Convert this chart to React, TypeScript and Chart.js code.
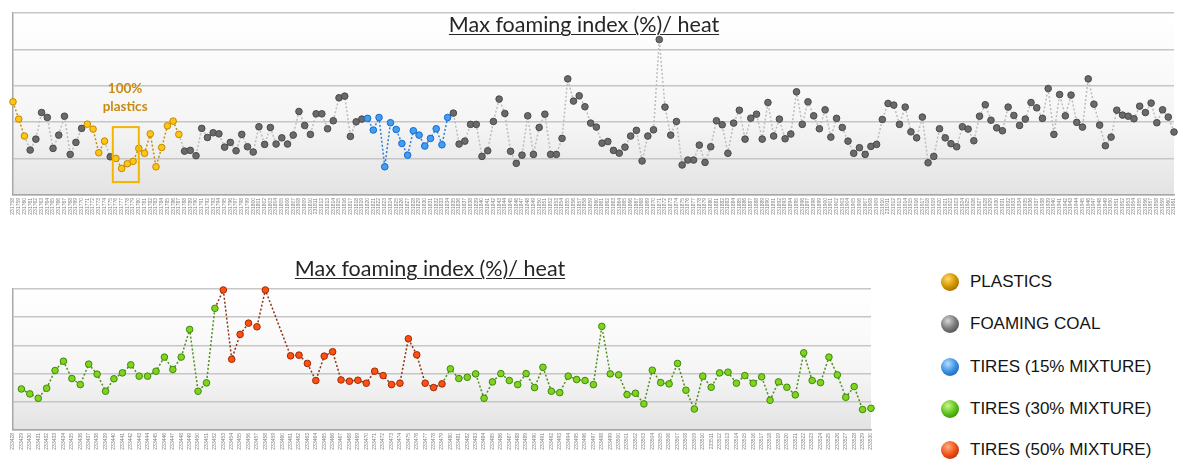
import React, { useEffect, useRef } from 'react';
import { Chart, registerables } from 'chart.js';

Chart.register(...registerables);

// ---------------- DATA ----------------
const titleText = 'Max foaming index (%)/ heat';

const topHeats = [
  231758, 231759, 231760, 231761, 231762, 231763, 231764, 231765, 231766, 231767,
  231768, 231769, 231770, 231771, 231772, 231773, 231774, 231775, 231776, 231777,
  231778, 231779, 231780, 231781, 231782, 231783, 231784, 231785, 231786, 231787,
  231788, 231789, 231790, 231791, 231792, 231793, 231794, 231795, 231796, 231797,
  231798, 231799, 231800, 231801, 231802, 231803, 231804, 231805, 231806, 231807,
  231808, 231809, 231810, 231811, 231812, 231813, 231814, 231815, 231816, 231817,
  231818, 231819, 231820, 231821, 231822, 231823, 231824, 231825, 231826, 231827,
  231828, 231829, 231830, 231831, 231832, 231833, 231834, 231835, 231836, 231837,
  231838, 231839, 231840, 231841, 231842, 231843, 231844, 231845, 231846, 231847,
  231848, 231849, 231850, 231851, 231852, 231853, 231854, 231855, 231856, 231857,
  231858, 231859, 231860, 231861, 231862, 231863, 231864, 231865, 231866, 231867,
  231868, 231869, 231870, 231871, 231872, 231873, 231874, 231875, 231876, 231877,
  231878, 231879, 231880, 231881, 231882, 231883, 231884, 231885, 231886, 231887,
  231888, 231889, 231890, 231891, 231892, 231893, 231894, 231895, 231896, 231897,
  231898, 231899, 231900, 231901, 231902, 231903, 231904, 231905, 231906, 231907,
  231908, 231909, 231910, 231911, 231912, 231913, 231914, 231915, 231916, 231917,
  231918, 231919, 231920, 231921, 231922, 231923, 231924, 231925, 231926, 231927,
  231928, 231929, 231930, 231931, 231932, 231933, 231934, 231935, 231936, 231937,
  231938, 231939, 231940, 231941, 231942, 231943, 231944, 231945, 231946, 231947,
  231948, 231949, 231950, 231951, 231952, 231953, 231954, 231955, 231956, 231957,
  231958, 231959, 231960, 231961,
];

const topValues = [
  51.2, 41.7, 32.4, 24.7, 30.7, 45.3, 42.6, 25.6, 32.9, 43.3,
  22.3, 28.9, 36.6, 38.9, 36.2, 23.2, 29.6, 21.0, 20.1, 14.6,
  17.2, 18.5, 25.6, 22.9, 33.6, 15.5, 26.1, 38.0, 40.6, 33.3,
  24.1, 24.5, 21.6, 36.6, 31.6, 34.2, 33.6, 26.3, 28.9, 24.3,
  33.3, 26.5, 23.6, 37.5, 27.8, 37.1, 28.0, 31.4, 28.0, 32.9,
  45.9, 38.2, 33.3, 44.6, 44.6, 36.4, 40.8, 53.4, 54.3, 32.2,
  40.2, 41.7, 42.1, 35.7, 42.6, 15.5, 39.7, 36.0, 28.3, 21.9,
  35.3, 32.9, 26.9, 31.1, 36.4, 27.6, 42.6, 45.0, 28.0, 29.6,
  38.8, 38.8, 21.2, 24.3, 40.4, 52.7, 44.8, 24.0, 17.4, 21.9,
  43.5, 22.3, 37.1, 44.4, 22.3, 22.3, 31.1, 63.8, 51.6, 54.5,
  48.5, 39.5, 37.3, 28.5, 29.4, 24.5, 23.0, 26.3, 32.4, 35.5,
  18.7, 32.4, 35.8, 85.4, 48.3, 32.9, 40.4, 16.5, 19.2, 19.2,
  27.4, 17.9, 26.5, 40.8, 38.6, 22.9, 39.5, 46.6, 30.7, 42.2,
  44.4, 30.7, 50.8, 32.4, 41.7, 30.9, 33.5, 56.7, 38.8, 51.2,
  43.5, 36.4, 46.8, 31.8, 42.1, 37.1, 29.6, 22.9, 26.0, 22.3,
  26.7, 27.8, 41.5, 50.3, 49.4, 38.8, 48.3, 34.7, 31.4, 42.8,
  17.7, 21.2, 36.4, 31.4, 28.2, 26.5, 37.5, 36.2, 29.8, 43.3,
  49.6, 41.1, 36.9, 35.3, 48.3, 43.7, 38.2, 41.7, 50.8, 47.9,
  42.1, 58.5, 33.3, 55.2, 43.5, 54.9, 39.9, 37.3, 63.8, 49.9,
  38.4, 27.1, 31.8, 46.6, 43.9, 43.3, 41.9, 48.8, 45.3, 50.5,
  39.7, 46.8, 42.8, 34.6,
];

// material of consecutive heats: [material, number of heats]
const topRuns: [string, number][] = [
  ['plastics', 3], ['coal', 10], ['plastics', 4], ['coal', 1], ['plastics', 12],
  ['coal', 32], ['tires15', 15], ['coal', 127],
];

const bottomHeats = [
  233428, 233429, 233430, 233431, 233432, 233433, 233434, 233435, 233436, 233437,
  233438, 233439, 233440, 233441, 233442, 233443, 233444, 233445, 233446, 233447,
  233448, 233449, 233450, 233451, 233452, 233453, 233454, 233455, 233456, 233457,
  233458, 233459, 233460, 233461, 233462, 233463, 233464, 233465, 233466, 233467,
  233468, 233469, 233470, 233471, 233472, 233473, 233474, 233475, 233476, 233477,
  233478, 233479, 233480, 233481, 233482, 233483, 233484, 233485, 233486, 233487,
  233488, 233489, 233490, 233491, 233492, 233493, 233494, 233495, 233496, 233497,
  233498, 233499, 233500, 233501, 233502, 233503, 233504, 233505, 233506, 233507,
  233508, 233509, 233510, 233511, 233512, 233513, 233514, 233515, 233516, 233517,
  233518, 233519, 233520, 233521, 233522, 233523, 233524, 233525, 233526, 233527,
  233528, 233529, 233530,
];

const bottomValues = [
  null, 29.1, 25.6, 22.5, 29.6, 42.2, 48.8, 36.5, 32.2, 46.7,
  39.6, 27.5, 36.3, 40.5, 46.2, 38.2, 38.2, 41.7, 51.7, 42.9,
  51.7, 71.3, 27.5, 33.4, 86.3, 99.3, 50.2, 67.8, 75.8, 73.2,
  99.3, null, null, 52.6, 53.1, 47.2, 35.1, 52.4, 55.5, 35.5,
  34.6, 35.3, 33.2, 41.7, 38.6, 32.2, 33.2, 64.7, 53.3, 33.2,
  30.1, 32.7, 43.4, 36.5, 37.4, 39.8, 22.5, 34.1, 40.0, 35.1,
  32.2, 40.0, 30.1, 44.5, 27.5, 26.5, 38.2, 35.8, 35.1, 32.2,
  73.5, 39.8, 39.1, 25.1, 26.1, 18.5, 42.4, 33.6, 32.7, 47.2,
  28.2, 14.9, 38.2, 30.3, 40.5, 41.0, 33.2, 38.6, 33.2, 37.7,
  21.1, 34.1, 30.3, 24.9, 54.7, 35.1, 33.6, 51.7, 39.1, 23.2,
  30.8, 14.5, 15.4,
];

const bottomRuns: [string, number][] = [
  ['tires30', 25], ['tires50', 27], ['tires30', 51],
];

const legendKeys = ['plastics', 'coal', 'tires15', 'tires30', 'tires50'];
const legendLabels = ['PLASTICS', 'FOAMING COAL', 'TIRES (15% MIXTURE)', 'TIRES (30% MIXTURE)', 'TIRES (50% MIXTURE)'];

const noteLines = ['100%', 'plastics'];
const noteX = 19.6;          // category position of the note
const noteY = [58.7, 48.3];  // value positions of its two lines
const noteBox = { x0: 17.45, x1: 22.0, yTop: 37.3, yBottom: 7.1 };

// ---------------- STYLES ----------------
const STYLE: Record<string, { fill: string; stroke: string; line: string }> = {
  plastics: { fill: '#ffc414', stroke: '#c08a00', line: '#c48e12' },
  coal: { fill: '#6a6a6a', stroke: '#4a4a4a', line: '#bdbdbd' },
  tires15: { fill: '#3f9ff2', stroke: '#1a6acb', line: '#2f80d8' },
  tires30: { fill: '#80d41e', stroke: '#3e8a0c', line: '#4f8f1a' },
  tires50: { fill: '#ff5014', stroke: '#a22800', line: '#8c3414' },
};

const SPHERE: Record<string, [string, string, string]> = {
  plastics: ['#ffd968', '#d39600', '#7e5200'],
  coal: ['#d6d6d6', '#7a7a7a', '#383838'],
  tires15: ['#b4deff', '#3a92e4', '#17488e'],
  tires30: ['#cdf58e', '#5cc41a', '#2a7000'],
  tires50: ['#ffb080', '#f0521a', '#962400'],
};

function expandRuns(runs: [string, number][]) {
  const out: string[] = [];
  runs.forEach(([k, n]) => { for (let i = 0; i < n; i++) out.push(k); });
  return out;
}

const plotBg = {
  id: 'plotBg',
  beforeDraw(chart: any) {
    const { ctx, chartArea: a } = chart;
    const g = ctx.createLinearGradient(0, a.top, 0, a.bottom);
    g.addColorStop(0, '#ffffff');
    g.addColorStop(0.6, '#f5f5f5');
    g.addColorStop(1, '#e3e3e3');
    ctx.save();
    ctx.fillStyle = g;
    ctx.fillRect(a.left, a.top, a.right - a.left, a.bottom - a.top);
    ctx.restore();
  },
};

const plasticsNote = {
  id: 'plasticsNote',
  afterDatasetsDraw(chart: any) {
    const { ctx } = chart;
    const xs = chart.scales.x;
    const ys = chart.scales.y;
    ctx.save();
    ctx.strokeStyle = '#f5b400';
    ctx.lineWidth = 2;
    const x0 = xs.getPixelForValue(noteBox.x0);
    const x1 = xs.getPixelForValue(noteBox.x1);
    const y0 = ys.getPixelForValue(noteBox.yTop);
    const y1 = ys.getPixelForValue(noteBox.yBottom);
    ctx.strokeRect(x0, y0, x1 - x0, y1 - y0);
    ctx.fillStyle = '#c98a10';
    ctx.font = 'bold 13.5px Lato';
    ctx.textAlign = 'center';
    ctx.textBaseline = 'middle';
    noteLines.forEach((t, i) => {
      ctx.fillText(t, xs.getPixelForValue(noteX), ys.getPixelForValue(noteY[i]));
    });
    ctx.restore();
  },
};

function buildChart(canvas: HTMLCanvasElement, labels: number[], values: (number | null)[], runs: [string, number][],
  padding: any, xHeight: number, extraPlugins: any[]) {
  const mats = expandRuns(runs);
  return new Chart(canvas, {
    type: 'line',
    data: {
      labels: labels.map(String),
      datasets: [{
        data: values,
        spanGaps: true,
        clip: false as any,
        borderWidth: 1.5,
        borderDash: [2, 2],
        borderColor: '#bdbdbd',
        tension: 0,
        pointRadius: values.map(v => (v == null ? 0 : 3.3)),
        pointBorderWidth: 1,
        pointBackgroundColor: mats.map(m => STYLE[m].fill),
        pointBorderColor: mats.map(m => STYLE[m].stroke),
        segment: {
          borderColor: (c: any) => STYLE[mats[c.p1DataIndex]].line,
        },
      }],
    },
    options: {
      animation: false,
      responsive: false,
      devicePixelRatio: 1,
      events: [],
      layout: { padding },
      plugins: { legend: { display: false }, tooltip: { enabled: false }, title: { display: false } },
      scales: {
        x: {
          type: 'category',
          offset: false,
          grid: { display: false, drawTicks: false },
          border: { display: true, color: '#a8a8a8', width: 1.5 },
          ticks: {
            autoSkip: false, minRotation: 90, maxRotation: 90, padding: 3,
            color: '#808080', font: { size: 5, family: 'Liberation Sans' },
          },
          afterFit: (s: any) => { s.height = xHeight; },
        },
        y: {
          min: 0, max: 100,
          ticks: { display: false, stepSize: 20 },
          grid: { color: '#c6c6c6', lineWidth: 1.5, drawTicks: false },
          border: { display: true, color: '#a8a8a8', width: 1.5 },
          afterFit: (s: any) => { s.width = 0; },
        },
      },
    },
    plugins: [plotBg, ...extraPlugins],
  });
}

const titleStyle: React.CSSProperties = {
  position: 'absolute', transform: 'translateX(-50%)', whiteSpace: 'nowrap',
  fontFamily: 'Lato', fontSize: 21.5, lineHeight: '22px', color: '#262626',
  textDecoration: 'underline', textDecorationThickness: '1.3px', textUnderlineOffset: '2px',
};

export default function App() {
  const topRef = useRef<HTMLCanvasElement>(null);
  const botRef = useRef<HTMLCanvasElement>(null);

  useEffect(() => {
    const c1 = buildChart(topRef.current!, topHeats, topValues, topRuns, { top: 13, left: 13, right: 0, bottom: 0 }, 27, [plasticsNote]);
    const c2 = buildChart(botRef.current!, bottomHeats, bottomValues, bottomRuns, { top: 9, left: 13, right: 5, bottom: 0 }, 30, []);
    return () => { c1.destroy(); c2.destroy(); };
  }, []);

  const rowY = [282, 324, 366.5, 409, 450];

  return (
    <div style={{ position: 'fixed', left: 0, top: 0, width: 1180, height: 460, overflow: 'hidden', background: '#ffffff' }}>
      <canvas ref={topRef} width={1183} height={222} style={{ position: 'absolute', left: 0, top: 0, width: 1183, height: 222 }} />
      <canvas ref={botRef} width={880} height={180} style={{ position: 'absolute', left: 0, top: 280, width: 880, height: 180 }} />
      <div style={{ ...titleStyle, left: 584, top: 13 }}>{titleText}</div>
      <div style={{ ...titleStyle, left: 430, top: 256.7 }}>{titleText}</div>
      {legendKeys.map((k, i) => (
        <React.Fragment key={k}>
          <div style={{
            position: 'absolute', left: 941, top: rowY[i] - 9, width: 18, height: 18, borderRadius: '50%',
            background: `radial-gradient(circle at 38% 32%, ${SPHERE[k][0]} 0%, ${SPHERE[k][1]} 48%, ${SPHERE[k][2]} 100%)`,
          }} />
          <div style={{
            position: 'absolute', left: 970, top: rowY[i] - 9.8, whiteSpace: 'nowrap',
            fontFamily: 'Liberation Sans', fontSize: 17, lineHeight: '20px', color: '#141414',
          }}>{legendLabels[i]}</div>
        </React.Fragment>
      ))}
    </div>
  );
}
